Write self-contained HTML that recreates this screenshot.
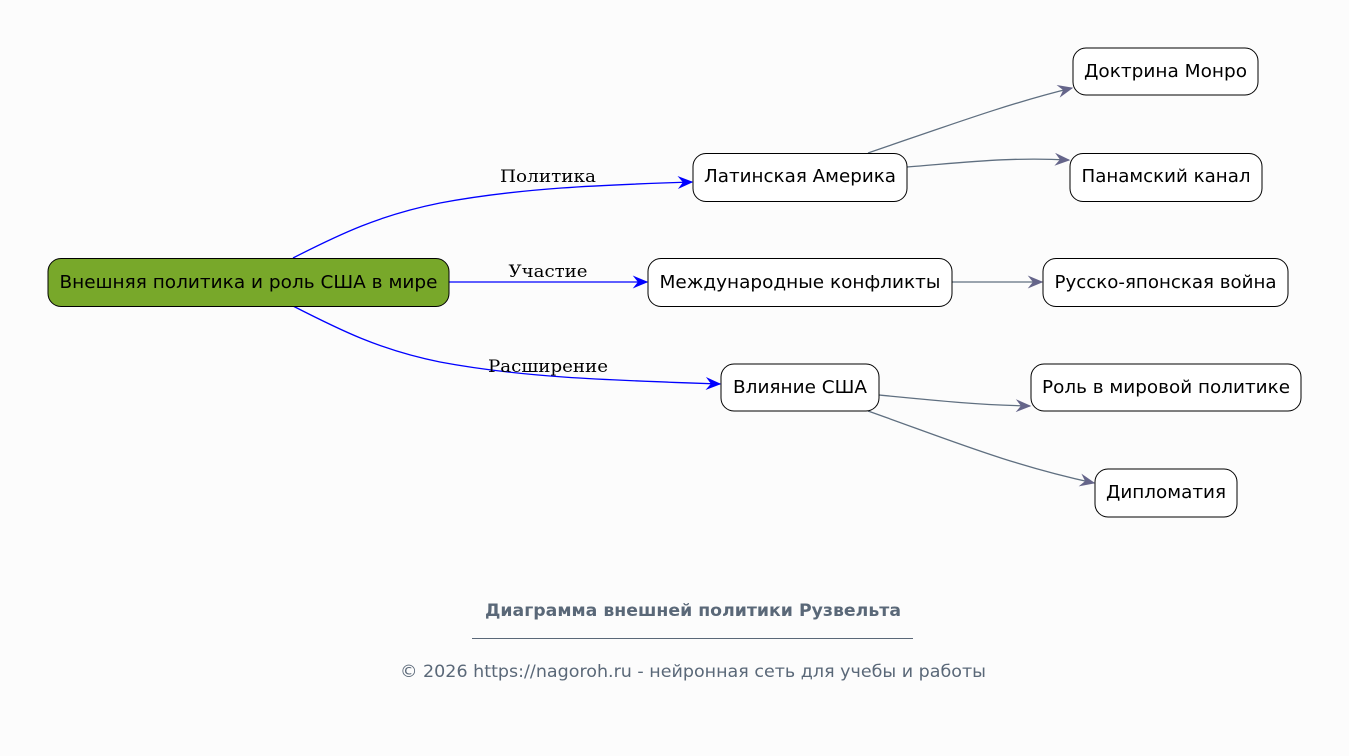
<!DOCTYPE html>
<html><head><meta charset="utf-8"><style>
body{margin:0;background:#fcfcfc;}
svg{display:block;font-family:"DejaVu Sans","Liberation Sans",sans-serif;}
</style></head><body>
<svg width="1349" height="756" viewBox="0 0 1349 756" xmlns="http://www.w3.org/2000/svg">
<defs>
<marker id="b" viewBox="0 0 12 10" refX="11" refY="5" markerWidth="16" markerHeight="13" markerUnits="userSpaceOnUse" orient="auto"><path d="M0,0 L12,5 L0,10 L4,5 z" fill="#0000ff"/></marker>
<marker id="g" viewBox="0 0 12 10" refX="11" refY="5" markerWidth="16" markerHeight="13" markerUnits="userSpaceOnUse" orient="auto"><path d="M0,0 L12,5 L0,10 L4,5 z" fill="#65658a"/></marker>
</defs>
<rect width="1349" height="756" fill="#fcfcfc"/>
<g fill="none" stroke="#0000ff" stroke-width="1.3">
<path d="M293,258 C340,234 380,215 440,203 C520,188 600,185 692,182" marker-end="url(#b)"/>
<path d="M449,282 L647,282" marker-end="url(#b)"/>
<path d="M293,306 C340,330 380,350 440,362 C520,377 600,380 720,384" marker-end="url(#b)"/>
</g>
<g fill="none" stroke="#5f6f80" stroke-width="1.3">
<path d="M868,153 C950,125 1010,103 1072,88" marker-end="url(#g)"/>
<path d="M907,167 C970,162 1010,157 1069,160" marker-end="url(#g)"/>
<path d="M952,282 L1042,282" marker-end="url(#g)"/>
<path d="M879,395 C940,401 980,405 1030,406" marker-end="url(#g)"/>
<path d="M868,411 C950,440 1010,465 1094,483" marker-end="url(#g)"/>
</g>
<g font-family="'DejaVu Serif','Liberation Serif',serif" font-size="17" fill="#000" text-anchor="middle" lengthAdjust="spacingAndGlyphs">
<text x="548" y="182" textLength="96" lengthAdjust="spacingAndGlyphs">Политика</text>
<text x="548" y="277" textLength="79" lengthAdjust="spacingAndGlyphs">Участие</text>
<text x="548" y="372" textLength="120" lengthAdjust="spacingAndGlyphs">Расширение</text>
</g>
<g stroke="#000" stroke-width="1">
<rect x="48" y="258.5" width="401" height="48" rx="13" fill="#78a82a"/>
<rect x="693" y="153.5" width="214" height="48" rx="13" fill="#fff"/>
<rect x="648" y="258.5" width="304" height="48" rx="13" fill="#fff"/>
<rect x="721" y="364" width="158" height="47" rx="13" fill="#fff"/>
<rect x="1073" y="48" width="185" height="47" rx="13" fill="#fff"/>
<rect x="1070" y="153.5" width="192" height="48" rx="13" fill="#fff"/>
<rect x="1043" y="258.5" width="245" height="48" rx="13" fill="#fff"/>
<rect x="1031" y="364" width="270" height="47" rx="13" fill="#fff"/>
<rect x="1095" y="469" width="142" height="48" rx="13" fill="#fff"/>
</g>
<g font-size="18" fill="#000" text-anchor="middle">
<text x="248.5" y="288" textLength="378" lengthAdjust="spacingAndGlyphs">Внешняя политика и роль США в мире</text>
<text x="800" y="182" textLength="192" lengthAdjust="spacingAndGlyphs">Латинская Америка</text>
<text x="800" y="288" textLength="281" lengthAdjust="spacingAndGlyphs">Международные конфликты</text>
<text x="800" y="393" textLength="134" lengthAdjust="spacingAndGlyphs">Влияние США</text>
<text x="1165.5" y="77" textLength="163" lengthAdjust="spacingAndGlyphs">Доктрина Монро</text>
<text x="1166" y="182" textLength="169" lengthAdjust="spacingAndGlyphs">Панамский канал</text>
<text x="1165.5" y="288" textLength="222" lengthAdjust="spacingAndGlyphs">Русско-японская война</text>
<text x="1166" y="393" textLength="248" lengthAdjust="spacingAndGlyphs">Роль в мировой политике</text>
<text x="1166" y="498" textLength="120" lengthAdjust="spacingAndGlyphs">Дипломатия</text>
</g>
<g fill="#5a6878" text-anchor="middle" font-size="17">
<text x="693" y="616" font-weight="bold" textLength="416" lengthAdjust="spacingAndGlyphs">Диаграмма внешней политики Рузвельта</text>
<line x1="472" y1="638.5" x2="913" y2="638.5" stroke="#5a6878" stroke-width="1"/>
<text x="693" y="677" textLength="586" lengthAdjust="spacingAndGlyphs">© 2026 https://nagoroh.ru - нейронная сеть для учебы и работы</text>
</g>
</svg>
</body></html>
